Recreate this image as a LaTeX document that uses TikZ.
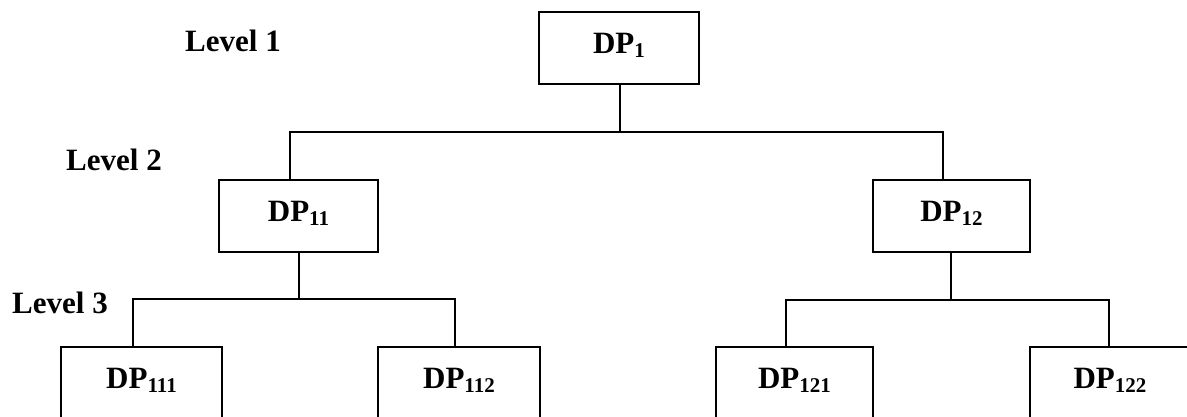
\documentclass[tikz,border=0pt]{standalone}
\usepackage{fontspec}
\setmainfont{Liberation Serif}
\newcommand{\dsb}[1]{\raisebox{-4pt}{\fontsize{21}{21}\selectfont #1}}
\begin{document}
\begin{tikzpicture}[x=1pt,y=1pt,
  dpbox/.style={draw, line width=2.8pt, rectangle, inner sep=0pt, minimum height=72pt,
     text height=20pt, text depth=10pt, font=\fontsize{31}{36}\selectfont\bfseries},
  lvl/.style={anchor=base west, inner sep=0pt, font=\fontsize{31}{36}\selectfont\bfseries},
  conn/.style={line width=2.8pt, line join=miter}]
\useasboundingbox (0,0) rectangle (1187,-416);
\clip (0,0) rectangle (1187,-416);
\fill[white] (0,0) rectangle (1187,-416);

\node[lvl] (l1) at (185,-51) {Level 1};
\node[lvl] (l2) at (66,-170) {Level 2};
\node[lvl] (l3) at (12,-313) {Level 3};

\node[dpbox, minimum width=160pt] (dp1) at (619,-48) {DP\dsb{1}};
\node[dpbox, minimum width=159pt] (dp11) at (298.5,-216) {DP\dsb{11}};
\node[dpbox, minimum width=157pt] (dp12) at (951.5,-216) {DP\dsb{12}};
\node[dpbox, minimum width=161pt] (dp111) at (141.5,-383) {DP\dsb{111}};
\node[dpbox, minimum width=162pt] (dp112) at (459,-383) {DP\dsb{112}};
\node[dpbox, minimum width=157pt] (dp121) at (794.5,-383) {DP\dsb{121}};
\node[dpbox, minimum width=160pt] (dp122) at (1110,-383) {DP\dsb{122}};

\coordinate (a0) at (620,-132);
\coordinate (a1) at (290,-132);
\coordinate (a2) at (943,-132);
\coordinate (b0) at (299,-299);
\coordinate (b1) at (133,-299);
\coordinate (b2) at (455,-299);
\coordinate (c0) at (951,-300);
\coordinate (c1) at (786,-300);
\coordinate (c2) at (1109,-300);

\draw[conn] (dp1.south -| a0) -- (a0);
\draw[conn] (dp11.north -| a1) -- (a1) -- (a2) -- (dp12.north -| a2);
\draw[conn] (dp11.south -| b0) -- (b0);
\draw[conn] (dp111.north -| b1) -- (b1) -- (b2) -- (dp112.north -| b2);
\draw[conn] (dp12.south -| c0) -- (c0);
\draw[conn] (dp121.north -| c1) -- (c1) -- (c2) -- (dp122.north -| c2);
\end{tikzpicture}
\end{document}
